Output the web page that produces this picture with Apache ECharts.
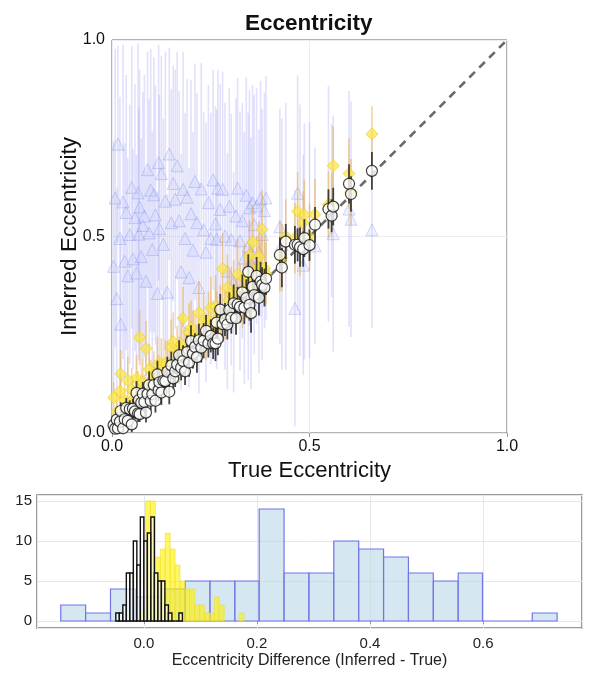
<!DOCTYPE html>
<html>
<head>
<meta charset="utf-8">
<script src="https://cdn.jsdelivr.net/npm/echarts@6/dist/echarts.min.js"></script>
<style>
  html, body { margin: 0; padding: 0; background: #fff; }
  #chart { width: 599px; height: 680px; }
</style>
</head>
<body>
<div id="chart"></div>
<script>
// true eccentricity of each system (shared by the three inference methods)
const trueE = [
  0.004, 0.008, 0.012, 0.015, 0.02, 0.022, 0.028, 0.032, 0.036, 0.04,
  0.045, 0.05, 0.053, 0.058, 0.062, 0.066, 0.068, 0.07, 0.074, 0.078,
  0.082, 0.086, 0.09, 0.094, 0.098, 0.102, 0.106, 0.11, 0.115, 0.118,
  0.12, 0.125, 0.13, 0.135, 0.14, 0.145, 0.15, 0.155, 0.16, 0.165,
  0.17, 0.175, 0.18, 0.185, 0.19, 0.195, 0.2, 0.205, 0.21, 0.215,
  0.22, 0.226, 0.232, 0.238, 0.244, 0.25, 0.256, 0.262, 0.265, 0.268,
  0.274, 0.28, 0.286, 0.292, 0.297, 0.302, 0.308, 0.314, 0.318, 0.324,
  0.33, 0.335, 0.34, 0.345, 0.348, 0.352, 0.356, 0.36, 0.366, 0.372,
  0.376, 0.38, 0.386, 0.39, 0.425, 0.43, 0.44, 0.463, 0.47, 0.476,
  0.484, 0.487, 0.5, 0.514, 0.548, 0.556, 0.56, 0.6, 0.605, 0.658
]

// white circles (black outline)
const circleE = [
  0.02, 0.011, 0.034, 0.012, 0.029, 0.056, 0.012, 0.035, 0.064, 0.031,
  0.061, 0.022, 0.062, 0.055, 0.102, 0.05, 0.084, 0.048, 0.077, 0.1,
  0.079, 0.052, 0.099, 0.122, 0.082, 0.099, 0.122, 0.082, 0.149, 0.109,
  0.129, 0.103, 0.133, 0.132, 0.156, 0.105, 0.172, 0.139, 0.157, 0.174,
  0.198, 0.166, 0.183, 0.157, 0.206, 0.179, 0.234, 0.202, 0.219, 0.193,
  0.236, 0.217, 0.235, 0.26, 0.228, 0.247, 0.228, 0.228, 0.281, 0.24,
  0.314, 0.277, 0.289, 0.276, 0.313, 0.293, 0.33, 0.292, 0.327, 0.321,
  0.358, 0.319, 0.343, 0.41, 0.326, 0.305, 0.372, 0.351, 0.4, 0.344,
  0.385, 0.377, 0.37, 0.393, 0.453, 0.421, 0.487, 0.479, 0.479, 0.473,
  0.468, 0.496, 0.478, 0.53, 0.57, 0.553, 0.576, 0.634, 0.608, 0.667
]
const circleErr = [
  0.012, 0.01, 0.02, 0.015, 0.018, 0.022, 0.014, 0.02, 0.025, 0.018,
  0.022, 0.02, 0.025, 0.018, 0.03, 0.022, 0.025, 0.02, 0.028, 0.03,
  0.022, 0.025, 0.03, 0.035, 0.025, 0.028, 0.032, 0.03, 0.035, 0.028,
  0.03, 0.032, 0.035, 0.03, 0.038, 0.032, 0.035, 0.03, 0.04, 0.035,
  0.038, 0.032, 0.04, 0.035, 0.042, 0.036, 0.04, 0.038, 0.035, 0.04,
  0.042, 0.038, 0.045, 0.04, 0.036, 0.042, 0.04, 0.045, 0.038, 0.042,
  0.04, 0.045, 0.042, 0.038, 0.045, 0.04, 0.048, 0.042, 0.045, 0.04,
  0.045, 0.042, 0.048, 0.045, 0.04, 0.05, 0.045, 0.042, 0.048, 0.045,
  0.05, 0.045, 0.048, 0.042, 0.045, 0.05, 0.045, 0.048, 0.042, 0.05,
  0.045, 0.048, 0.04, 0.045, 0.05, 0.042, 0.048, 0.05, 0.045, 0.048
]

// yellow diamonds
const yellowE = [
  0.09, 0.024, 0.054, 0.022, 0.106, 0.151, 0.053, 0.083, 0.052, 0.134,
  0.052, 0.11, 0.086, 0.074, 0.139, 0.108, 0.075, 0.243, 0.099, 0.129,
  0.098, 0.215, 0.097, 0.162, 0.131, 0.118, 0.148, 0.117, 0.175, 0.143,
  0.136, 0.176, 0.137, 0.177, 0.173, 0.161, 0.218, 0.232, 0.167, 0.207,
  0.186, 0.226, 0.292, 0.21, 0.197, 0.255, 0.268, 0.247, 0.243, 0.222,
  0.306, 0.242, 0.283, 0.245, 0.286, 0.318, 0.272, 0.322, 0.29, 0.275,
  0.307, 0.418, 0.302, 0.369, 0.339, 0.353, 0.359, 0.33, 0.404, 0.357,
  0.337, 0.395, 0.365, 0.361, 0.451, 0.394, 0.485, 0.367, 0.417, 0.449,
  0.418, 0.518, 0.419, 0.406, 0.45, 0.446, 0.5, 0.496, 0.564, 0.483,
  0.535, 0.555, 0.499, 0.556, 0.581, 0.581, 0.68, 0.66, 0.612, 0.761
]
const yellowErr = [
  0.04, 0.03, 0.05, 0.03, 0.045, 0.06, 0.04, 0.05, 0.04, 0.06,
  0.04, 0.055, 0.05, 0.045, 0.06, 0.05, 0.04, 0.07, 0.05, 0.06,
  0.05, 0.07, 0.045, 0.065, 0.055, 0.05, 0.06, 0.05, 0.07, 0.055,
  0.05, 0.065, 0.05, 0.06, 0.06, 0.055, 0.07, 0.075, 0.05, 0.065,
  0.06, 0.07, 0.08, 0.06, 0.055, 0.075, 0.07, 0.065, 0.06, 0.055,
  0.08, 0.06, 0.07, 0.06, 0.075, 0.08, 0.065, 0.08, 0.07, 0.06,
  0.07, 0.09, 0.065, 0.085, 0.075, 0.07, 0.08, 0.065, 0.09, 0.075,
  0.07, 0.085, 0.075, 0.07, 0.09, 0.08, 0.095, 0.07, 0.085, 0.09,
  0.08, 0.1, 0.085, 0.08, 0.09, 0.085, 0.095, 0.09, 0.1, 0.085,
  0.08, 0.09, 0.085, 0.09, 0.085, 0.08, 0.1, 0.09, 0.085, 0.07
]

// blue triangles
const blueE = [
  0.424, 0.598, 0.342, 0.735, 0.495, 0.277, 0.588, 0.437, 0.561, 0.4,
  0.505, 0.625, 0.443, 0.548, 0.407, 0.611, 0.506, 0.575, 0.449, 0.528,
  0.552, 0.386, 0.67, 0.509, 0.618, 0.467, 0.606, 0.555, 0.355, 0.688,
  0.52, 0.66, 0.48, 0.59, 0.358, 0.71, 0.535, 0.635, 0.595, 0.68,
  0.54, 0.41, 0.62, 0.495, 0.6, 0.395, 0.558, 0.465, 0.64, 0.535,
  0.37, 0.621, 0.517, 0.46, 0.586, 0.495, 0.644, 0.532, 0.493, 0.623,
  0.569, 0.62, 0.501, 0.412, 0.577, 0.492, 0.383, 0.552, 0.623, 0.489,
  0.54, 0.445, 0.605, 0.475, 0.573, 0.432, 0.586, 0.53, 0.578, 0.462,
  0.596, 0.505, 0.566, 0.598, 0.525, 0.48, 0.5, 0.317, 0.61, 0.516,
  0.427, 0.487, 0.49, 0.476, 0.583, 0.566, 0.507, 0.57, 0.544, 0.517
]
const blueErr = [
  0.32, 0.38, 0.28, 0.25, 0.36, 0.22, 0.4, 0.3, 0.35, 0.3,
  0.33, 0.36, 0.28, 0.34, 0.3, 0.38, 0.32, 0.35, 0.3, 0.34,
  0.36, 0.28, 0.3, 0.34, 0.36, 0.3, 0.35, 0.33, 0.26, 0.3,
  0.34, 0.3, 0.32, 0.38, 0.25, 0.27, 0.34, 0.3, 0.33, 0.29,
  0.33, 0.3, 0.35, 0.32, 0.3, 0.28, 0.34, 0.3, 0.3, 0.33,
  0.27, 0.32, 0.3, 0.33, 0.3, 0.32, 0.28, 0.3, 0.33, 0.3,
  0.32, 0.3, 0.34, 0.3, 0.3, 0.32, 0.28, 0.3, 0.28, 0.33,
  0.3, 0.32, 0.3, 0.34, 0.3, 0.32, 0.3, 0.33, 0.3, 0.31,
  0.3, 0.32, 0.3, 0.31, 0.3, 0.32, 0.34, 0.3, 0.3, 0.32,
  0.28, 0.3, 0.3, 0.25, 0.3, 0.22, 0.3, 0.3, 0.3, 0.25
]

const identityLine = [[0, 0], [1, 1]]

// histograms of (inferred - true): bin edges and counts
const blueEdges = [-0.147, -0.103, -0.059, -0.015, 0.029, 0.073, 0.117, 0.161, 0.204, 0.248,
  0.292, 0.336, 0.38, 0.424, 0.468, 0.512, 0.556, 0.599, 0.643, 0.687, 0.731]
const blueCounts = [2, 1, 4, 3, 4, 5, 5, 5, 14, 6, 6, 10, 9, 8, 6, 5, 6, 0, 0, 1]

const yellowEdges = [-0.0057, 0.003, 0.0117, 0.0204, 0.0291, 0.0378, 0.0465, 0.0552, 0.0639, 0.0726,
  0.0813, 0.09, 0.0987, 0.1074, 0.1161, 0.1248, 0.1335, 0.1422, 0.1509, 0.1596, 0.1683, 0.177]
const yellowCounts = [1, 15, 15, 8, 9, 11, 9, 7, 5, 4, 4, 2, 2, 1, 1, 3, 2, 0, 0, 0, 1]

const blackEdges = [-0.0496, -0.0434, -0.0372, -0.031, -0.0248, -0.0186, -0.0124, -0.0062, 0, 0.0062,
  0.0124, 0.0186, 0.0248, 0.031, 0.0372, 0.0434, 0.0496, 0.0558, 0.062, 0.0682]
const blackCounts = [1, 1, 2, 6, 6, 10, 7, 13, 10, 11, 13, 6, 5, 5, 2, 1, 0, 0, 1]

const FONT = "'Liberation Sans', Arial, Helvetica, sans-serif"

// vertical error bar per point, clipped to [0, 1]
function errorSeries(vals, errs, color, width, z) {
  return {
    type: 'custom', xAxisIndex: 0, yAxisIndex: 0, z: z, silent: true,
    data: trueE.map((t, i) => [t, vals[i], errs[i]]),
    encode: { x: 0, y: 1 },
    renderItem: function (params, api) {
      const x = api.value(0), y = api.value(1), e = api.value(2)
      const p0 = api.coord([x, Math.max(0, y - e)])
      const p1 = api.coord([x, Math.min(1, y + e)])
      return {
        type: 'line',
        shape: { x1: p0[0], y1: p0[1], x2: p1[0], y2: p1[1] },
        style: { stroke: color, lineWidth: width }
      }
    }
  }
}

function scatterSeries(vals, symbol, size, style, z) {
  return {
    type: 'scatter', xAxisIndex: 0, yAxisIndex: 0, z: z, silent: true,
    symbol: symbol, symbolSize: size,
    data: trueE.map((t, i) => [t, vals[i]]),
    itemStyle: style
  }
}

function histSeries(edges, counts, fill, stroke, lw, z, skipZero) {
  return {
    type: 'custom', xAxisIndex: 1, yAxisIndex: 1, z: z, silent: true,
    data: counts.map((c, i) => [edges[i], edges[i + 1], c]),
    encode: { x: [0, 1], y: 2 },
    renderItem: function (params, api) {
      const c = api.value(2)
      if (skipZero && c === 0) return null
      const a = api.coord([api.value(0), c])
      const b = api.coord([api.value(1), 0])
      return {
        type: 'rect',
        shape: { x: a[0], y: a[1], width: b[0] - a[0], height: b[1] - a[1] },
        style: { fill: fill, stroke: stroke, lineWidth: lw }
      }
    }
  }
}

const lightSplit = { show: true, lineStyle: { color: '#ececf2', width: 1 } }

const chart = echarts.init(document.getElementById('chart'))
chart.setOption({
  animation: false,
  backgroundColor: '#fff',
  textStyle: { fontFamily: FONT },
  title: {
    text: 'Eccentricity', left: 240, top: 7,
    textStyle: { fontSize: 22.5, fontWeight: 'bold', color: '#111', fontFamily: FONT }
  },
  grid: [
    { left: 112, top: 40, width: 395, height: 393, show: true, borderColor: '#666', borderWidth: 1 },
    { left: 37, top: 495, width: 545, height: 133, show: true, borderColor: '#7a7a7a', borderWidth: 1.5 }
  ],
  xAxis: [
    {
      type: 'value', gridIndex: 0, min: 0, max: 1, interval: 0.5,
      axisLine: { show: false },
      axisTick: { show: true, length: 4, lineStyle: { color: '#999' } },
      axisLabel: { fontSize: 16, color: '#111', margin: 6, formatter: v => v.toFixed(1) },
      splitLine: lightSplit,
      name: 'True Eccentricity', nameLocation: 'middle', nameGap: 27,
      nameTextStyle: { fontSize: 22, color: '#111', fontFamily: FONT }
    },
    {
      type: 'value', gridIndex: 1, min: -0.189, max: 0.775, splitNumber: 5,
      axisLine: { show: false },
      axisTick: { show: true, length: 3, lineStyle: { color: '#999' } },
      axisLabel: { fontSize: 15, color: '#222', margin: 8, showMinLabel: false, showMaxLabel: false,
        formatter: v => v.toFixed(1) },
      splitLine: { show: true, lineStyle: { color: '#e6e6e6', width: 1 } },
      name: 'Eccentricity Difference (Inferred - True)', nameLocation: 'middle', nameGap: 25,
      nameTextStyle: { fontSize: 16, color: '#222', fontFamily: FONT }
    }
  ],
  yAxis: [
    {
      type: 'value', gridIndex: 0, min: 0, max: 1, interval: 0.5,
      axisLine: { show: false },
      axisTick: { show: false },
      axisLabel: { fontSize: 16, color: '#111', margin: 7, formatter: v => v.toFixed(1) },
      splitLine: lightSplit,
      name: 'Inferred Eccentricity', nameLocation: 'middle', nameGap: 31, nameMoveOverlap: false,
      nameTextStyle: { fontSize: 22.5, color: '#111', fontFamily: FONT }
    },
    {
      type: 'value', gridIndex: 1, min: -0.875, max: 15.75, splitNumber: 3,
      axisLine: { show: false },
      axisTick: { show: false },
      axisLabel: { fontSize: 15, color: '#222', margin: 5, showMinLabel: false, showMaxLabel: false },
      splitLine: { show: true, lineStyle: { color: '#e6e6e6', width: 1 } }
    }
  ],
  series: [
    errorSeries(blueE, blueErr, 'rgba(140,140,240,0.26)', 1.6, 2),
    scatterSeries(blueE, 'triangle', 12,
      { color: 'rgba(195,205,250,0.3)', borderColor: 'rgba(120,130,235,0.4)', borderWidth: 1 }, 3),
    {
      type: 'line', xAxisIndex: 0, yAxisIndex: 0, z: 4, silent: true,
      data: identityLine, symbol: 'none',
      lineStyle: { color: '#6a6a6a', width: 2.6, type: [8, 6] }
    },
    errorSeries(yellowE, yellowErr, 'rgba(240,170,50,0.5)', 1.6, 5),
    scatterSeries(yellowE, 'diamond', 12,
      { color: 'rgba(250,230,70,0.92)', borderColor: 'rgba(235,205,50,0.9)', borderWidth: 1 }, 6),
    errorSeries(circleE, circleErr, 'rgba(35,35,35,0.85)', 1.8, 7),
    scatterSeries(circleE, 'circle', 11,
      { color: '#fff', borderColor: '#111', borderWidth: 1.2 }, 8),

    histSeries(blueEdges, blueCounts, 'rgba(185,215,232,0.6)', '#7275e6', 1.2, 2, false),
    histSeries(yellowEdges, yellowCounts, 'rgba(255,240,0,0.62)', 'rgba(238,222,40,0.7)', 0.8, 3, true),
    histSeries(blackEdges, blackCounts, 'rgba(255,255,255,0.6)', '#111', 1.4, 4, false)
  ]
})
</script>
</body>
</html>
